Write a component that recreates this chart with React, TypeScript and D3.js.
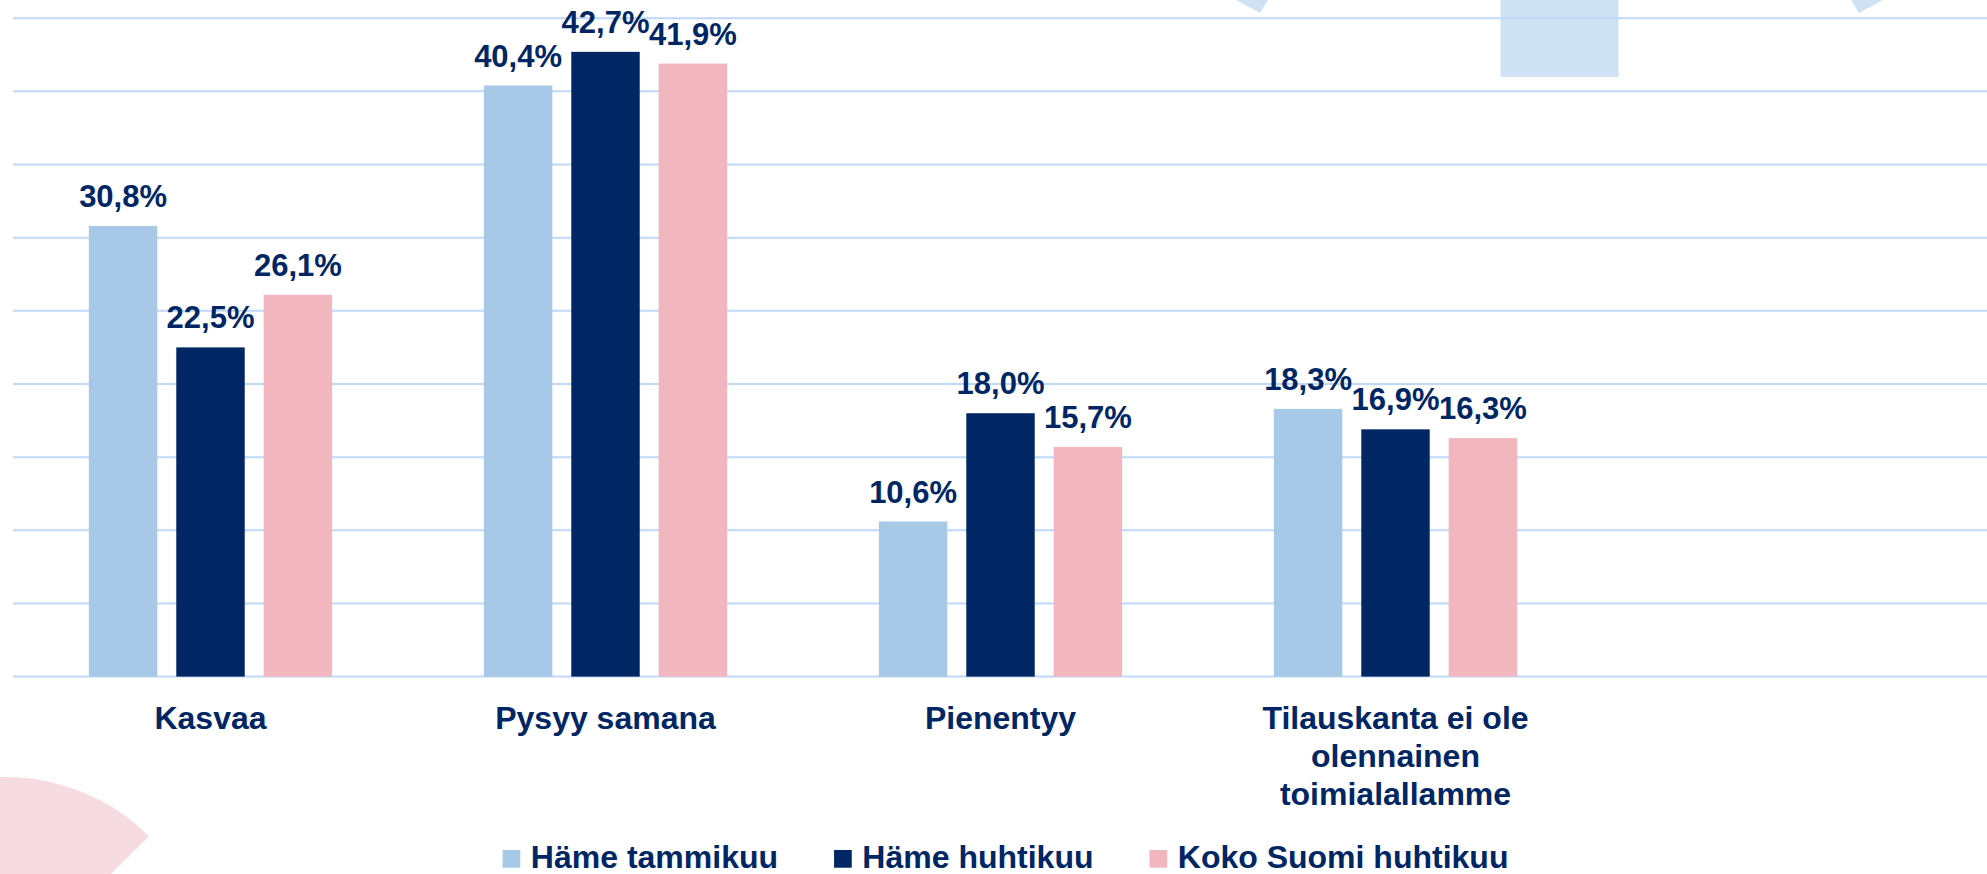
import React, { useEffect, useRef } from 'react';
import * as d3 from 'd3';

// chart data
const categories = ['Kasvaa', 'Pysyy samana', 'Pienentyy', 'Tilauskanta ei ole olennainen toimialallamme'];
const seriesNames = ['Häme tammikuu', 'Häme huhtikuu', 'Koko Suomi huhtikuu'];
const hameTammikuu = [30.8, 40.4, 10.6, 18.3];
const hameHuhtikuu = [22.5, 42.7, 18.0, 16.9];
const kokoSuomiHuhtikuu = [26.1, 41.9, 15.7, 16.3];
const yTicks = [0, 5, 10, 15, 20, 25, 30, 35, 40, 45];

const colors = ['#a7c9e7', '#002664', '#f2b6be'];
const textColor = '#002664';
const gridColor = '#bfd8f7';
const font = '"Liberation Sans", Arial, sans-serif';

const W = 1987;
const H = 874;

const App = () => {
  const ref = useRef<SVGSVGElement>(null);

  useEffect(() => {
    document.body.style.margin = '0';
    const svg = d3.select(ref.current);
    svg.selectAll('*').remove();

    const values = [hameTammikuu, hameHuhtikuu, kokoSuomiHuhtikuu];

    // 4 categories, the plot keeps room for a fifth empty slot on the right
    const x = d3.scaleBand<string>().domain(categories).range([13, 1593]).padding(0);
    const xs = d3.scaleBand<string>().domain(seriesNames).range([0, x.bandwidth()])
      .paddingInner(0.217).paddingOuter(0.868);
    const y = d3.scaleLinear().domain([0, 45]).range([676.6, 18.2]);

    // slide decorations behind the chart
    const deco = svg.append('g');
    const sector = d3.arc()({ innerRadius: 0, outerRadius: 202, startAngle: -Math.PI / 2, endAngle: Math.PI / 4 } as any);
    deco.append('path').attr('d', sector).attr('transform', 'translate(6,979)').attr('fill', '#f6dce1');
    deco.append('polygon').attr('points', '1236,0 1268,0 1260,13').attr('fill', '#cfe2f3');
    deco.append('rect').attr('x', 1500.5).attr('y', 0).attr('width', 118).attr('height', 77).attr('fill', '#cfe2f3');
    deco.append('polygon').attr('points', '1851,0 1883,0 1859,13').attr('fill', '#cfe2f3');

    // gridlines
    svg.append('g').selectAll('line').data(yTicks).join('line')
      .attr('x1', 13).attr('x2', W)
      .attr('y1', d => y(d)).attr('y2', d => y(d))
      .attr('stroke', gridColor).attr('stroke-width', 2);

    const fmt = (v: number) => v.toFixed(1).replace('.', ',') + '%';

    const groups = svg.append('g').selectAll('g').data(categories).join('g')
      .attr('transform', d => `translate(${x(d)},0)`);

    seriesNames.forEach((s, si) => {
      groups.append('rect')
        .attr('x', xs(s))
        .attr('width', xs.bandwidth())
        .attr('y', (d, i) => y(values[si][i]))
        .attr('height', (d, i) => y(0) - y(values[si][i]))
        .attr('fill', colors[si]);
      groups.append('text')
        .attr('x', (xs(s) as number) + xs.bandwidth() / 2)
        .attr('y', (d, i) => y(values[si][i]) - 19)
        .attr('text-anchor', 'middle')
        .attr('font-family', font).attr('font-weight', 'bold').attr('font-size', 31)
        .attr('fill', textColor)
        .text((d, i) => fmt(values[si][i]));
    });

    // category labels, wrapped
    const catText = svg.append('g').selectAll('text').data(categories).join('text')
      .attr('x', d => (x(d) as number) + x.bandwidth() / 2)
      .attr('y', 729.3)
      .attr('text-anchor', 'middle')
      .attr('font-family', font).attr('font-weight', 'bold').attr('font-size', 32)
      .attr('fill', textColor);
    catText.each(function (d) {
      const t = d3.select(this);
      const words = d.split(' ');
      let line: string[] = [];
      let tspan = t.append('tspan').attr('x', t.attr('x')).attr('dy', 0);
      words.forEach(w => {
        line.push(w);
        tspan.text(line.join(' '));
        if ((tspan.node() as SVGTSpanElement).getComputedTextLength() > 300 && line.length > 1) {
          line.pop();
          tspan.text(line.join(' '));
          line = [w];
          tspan = t.append('tspan').attr('x', t.attr('x')).attr('dy', 38).text(w);
        }
      });
    });

    // legend, centred under the plot
    const legend = svg.append('g');
    let lx = 0;
    seriesNames.forEach((s, i) => {
      const item = legend.append('g').attr('transform', `translate(${lx},0)`);
      item.append('rect').attr('x', 0).attr('y', 867.7 - 17.7).attr('width', 17.7).attr('height', 17.7).attr('fill', colors[i]);
      const txt = item.append('text').attr('x', 28.3).attr('y', 867.7)
        .attr('font-family', font).attr('font-weight', 'bold').attr('font-size', 32)
        .attr('fill', textColor).text(s);
      lx += 28.3 + (txt.node() as SVGTextElement).getComputedTextLength() + 56;
    });
    const legendW = lx - 56;
    legend.attr('transform', `translate(${1005.5 - legendW / 2},0)`);
  }, []);

  return <svg ref={ref} width={W} height={H} style={{ display: 'block', background: '#fff' }} />;
};

export default App;
